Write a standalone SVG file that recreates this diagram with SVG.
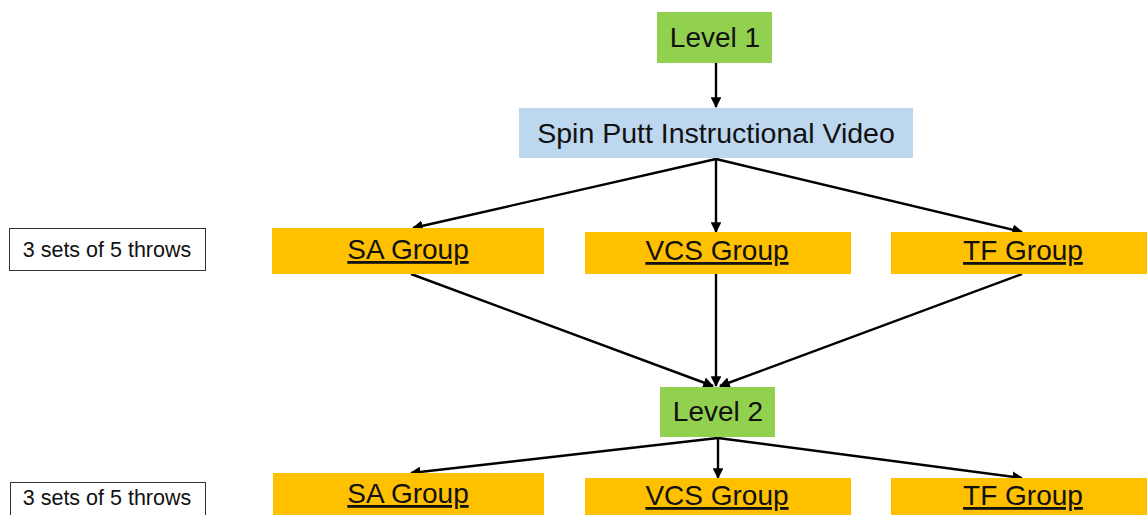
<svg xmlns="http://www.w3.org/2000/svg" width="1147" height="515" viewBox="0 0 1147 515">
<style>
.lvl{fill:#92D050}
.vid{fill:#BDD7EE}
.grp{fill:#FFC000}
.note{fill:#fff;stroke:#333;stroke-width:1}
text{font-family:"Liberation Sans",Arial,sans-serif;fill:#111;text-anchor:middle}
.big{font-size:28px}
.vt{font-size:28.5px}
.u{text-decoration:underline}
.small{font-size:21.5px}
.c{stroke:#000;stroke-width:2.4;fill:none;marker-end:url(#ah)}
</style>
<defs>
<marker id="ah" viewBox="0 0 10 10" refX="9" refY="5" markerWidth="4.5" markerHeight="4.5" orient="auto" markerUnits="strokeWidth">
<path d="M0,0 L10,5 L0,10 z" fill="#000"/>
</marker>
</defs>
<rect width="1147" height="515" fill="#fff"/>
<g id="connectors">
<line class="c" x1="716" y1="63" x2="716" y2="107"/>
<line class="c" x1="716" y1="159" x2="413" y2="228"/>
<line class="c" x1="716" y1="159" x2="716" y2="232"/>
<line class="c" x1="716" y1="159" x2="1022" y2="232"/>
<line class="c" x1="411" y1="274" x2="713" y2="386"/>
<line class="c" x1="716" y1="274" x2="716" y2="386"/>
<line class="c" x1="1022" y1="274" x2="720" y2="386"/>
<line class="c" x1="718" y1="438" x2="411" y2="473"/>
<line class="c" x1="718" y1="438" x2="718" y2="478"/>
<line class="c" x1="718" y1="438" x2="1022" y2="478"/>
</g>
<g id="level1"><rect class="lvl" x="657" y="12" width="115" height="51"/><text class="big" x="715" y="47">Level 1</text></g>
<g id="video"><rect class="vid" x="519" y="108" width="394" height="50"/><text class="vt" x="716" y="143">Spin Putt Instructional Video</text></g>
<g id="note1"><rect class="note" x="9.5" y="228.5" width="196" height="42"/><text class="small" x="107" y="257">3 sets of 5 throws</text></g>
<g id="sa1"><rect class="grp" x="272" y="228" width="272" height="46"/><text class="big u" x="408" y="259">SA Group</text></g>
<g id="vcs1"><rect class="grp" x="585" y="232" width="266" height="42"/><text class="big u" x="717" y="260">VCS Group</text></g>
<g id="tf1"><rect class="grp" x="891" y="232" width="256" height="42"/><text class="big u" x="1023" y="260">TF Group</text></g>
<g id="level2"><rect class="lvl" x="660" y="387" width="115" height="50"/><text class="big" x="718" y="421">Level 2</text></g>
<g id="note2"><rect class="note" x="10.5" y="482.5" width="195" height="40"/><text class="small" x="107" y="505">3 sets of 5 throws</text></g>
<g id="sa2"><rect class="grp" x="273" y="473" width="271" height="46"/><text class="big u" x="408" y="503">SA Group</text></g>
<g id="vcs2"><rect class="grp" x="585" y="478" width="266" height="40"/><text class="big u" x="717" y="505">VCS Group</text></g>
<g id="tf2"><rect class="grp" x="891" y="478" width="256" height="40"/><text class="big u" x="1023" y="505">TF Group</text></g>
</svg>
